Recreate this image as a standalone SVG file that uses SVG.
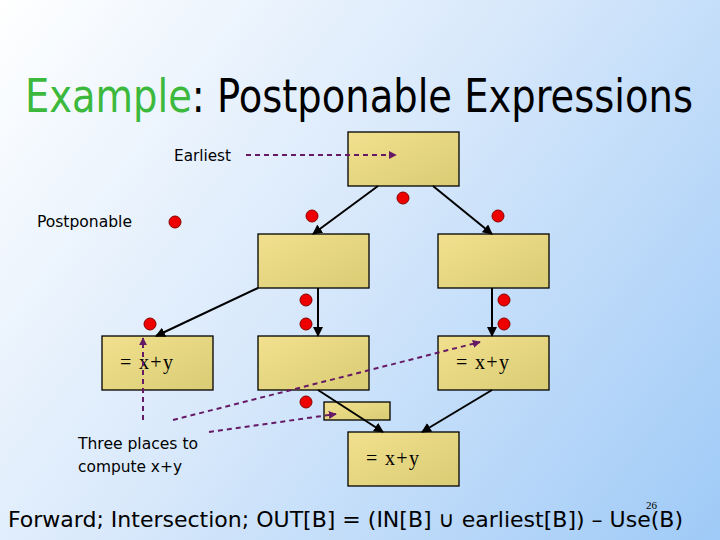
<svg xmlns="http://www.w3.org/2000/svg" width="720" height="540" viewBox="0 0 720 540">
<defs>
<linearGradient id="bg" gradientUnits="userSpaceOnUse" x1="0" y1="0" x2="720" y2="540">
<stop offset="0" stop-color="#ffffff"/>
<stop offset="0.45" stop-color="#d9e9fb"/>
<stop offset="1" stop-color="#9fcaf7"/>
</linearGradient>
<linearGradient id="box" x1="0" y1="0" x2="1" y2="1">
<stop offset="0" stop-color="#f2e08e"/>
<stop offset="1" stop-color="#d9cc74"/>
</linearGradient>
<marker id="ah" viewBox="0 0 10 10" refX="9" refY="5" markerWidth="5" markerHeight="5" orient="auto" markerUnits="strokeWidth">
<path d="M0,0 L10,5 L0,10 z" fill="#000"/>
</marker>
<marker id="ahp" viewBox="0 0 10 10" refX="9" refY="5" markerWidth="4" markerHeight="4" orient="auto" markerUnits="strokeWidth">
<path d="M0,0 L10,5 L0,10 z" fill="#661a66"/>
</marker>
</defs>
<style>
.b{fill:url(#box);stroke:#000;stroke-width:1.3}
.e{stroke:#000;stroke-width:2;fill:none;marker-end:url(#ah)}
.d{stroke:#661a66;stroke-width:2;fill:none;stroke-dasharray:5,4;marker-end:url(#ahp)}
.dot{fill:#ee0000;stroke:#880000;stroke-width:1}
.t{font-family:Tahoma,"DejaVu Sans Condensed","Liberation Sans",sans-serif;fill:#000}
.m{font-family:"Liberation Serif","Times New Roman",serif;font-size:20px;fill:#000}
</style>
<rect width="720" height="540" fill="url(#bg)"/>
<g transform="translate(25,112) scale(0.8,1)">
<text x="0" y="0" class="t" font-size="46" textLength="835" lengthAdjust="spacingAndGlyphs"><tspan fill="#3cb93c">Example</tspan>: Postponable Expressions</text>
</g>

<g id="n-top"><rect class="b" x="348" y="132" width="111" height="54"/></g>
<g id="n-b2"><rect class="b" x="258" y="234" width="111" height="54"/></g>
<g id="n-b3"><rect class="b" x="438" y="234" width="111" height="54"/></g>
<g id="n-b4"><rect class="b" x="102" y="336" width="111" height="54"/><text class="m" x="120" y="369" textLength="53" lengthAdjust="spacing">= x+y</text></g>
<g id="n-b5"><rect class="b" x="258" y="336" width="111" height="54"/></g>
<g id="n-b6"><rect class="b" x="438" y="336" width="111" height="54"/><text class="m" x="456" y="369" textLength="53" lengthAdjust="spacing">= x+y</text></g>
<g id="n-small"><rect class="b" x="324" y="402" width="66" height="18"/></g>
<g id="n-b7"><rect class="b" x="348" y="432" width="111" height="54"/><text class="m" x="366" y="465" textLength="53" lengthAdjust="spacing">= x+y</text></g>

<g id="connectors">
<line class="e" x1="378" y1="186" x2="313" y2="234"/>
<line class="e" x1="433" y1="186" x2="492" y2="234"/>
<line class="e" x1="258" y1="288" x2="156" y2="336"/>
<line class="e" x1="318" y1="288" x2="318" y2="336"/>
<line class="e" x1="492" y1="288" x2="492" y2="336"/>
<line class="e" x1="318" y1="390" x2="383" y2="432"/>
<line class="e" x1="492" y1="390" x2="422" y2="432"/>
<line class="d" x1="246" y1="155" x2="396" y2="155"/>
<line class="d" x1="143" y1="420" x2="143" y2="338"/>
<line class="d" x1="173" y1="420" x2="480" y2="342"/>
<line class="d" x1="209" y1="432" x2="336" y2="414"/>
</g>

<g id="dots">
<circle class="dot" cx="175" cy="222" r="6"/>
<circle class="dot" cx="312" cy="216" r="6"/>
<circle class="dot" cx="403" cy="198" r="6"/>
<circle class="dot" cx="498" cy="216" r="6"/>
<circle class="dot" cx="306" cy="300" r="6"/>
<circle class="dot" cx="306" cy="324" r="6"/>
<circle class="dot" cx="504" cy="300" r="6"/>
<circle class="dot" cx="504" cy="324" r="6"/>
<circle class="dot" cx="150" cy="324" r="6"/>
<circle class="dot" cx="306" cy="402" r="6"/>
</g>

<text class="t" x="174" y="161" font-size="16" textLength="57" lengthAdjust="spacingAndGlyphs">Earliest</text>
<text class="t" x="37" y="227" font-size="16" textLength="95" lengthAdjust="spacingAndGlyphs">Postponable</text>
<text class="t" x="78" y="449" font-size="16" textLength="120" lengthAdjust="spacingAndGlyphs">Three places to</text>
<text class="t" x="78" y="472" font-size="16" textLength="104" lengthAdjust="spacingAndGlyphs">compute x+y</text>
<text class="t" x="8" y="527" font-size="22" textLength="675" lengthAdjust="spacingAndGlyphs">Forward; Intersection; OUT[B] = (IN[B] ∪ earliest[B]) – Use(B)</text>
<text x="646" y="509" font-family="Liberation Serif,serif" font-size="11" fill="#000">26</text>
</svg>
